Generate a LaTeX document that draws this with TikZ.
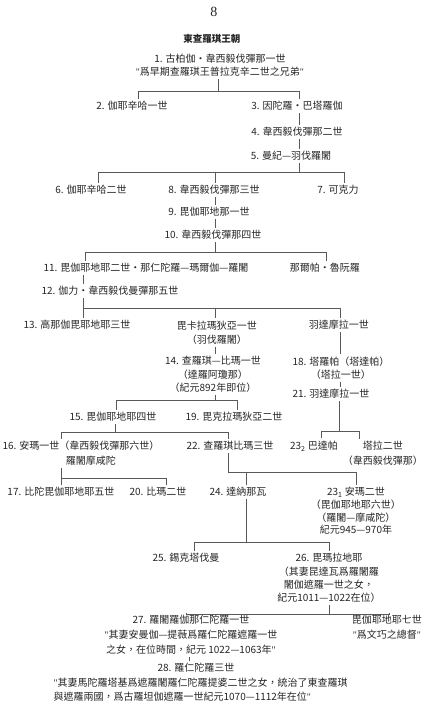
\documentclass[tikz,border=0pt]{standalone}
\usepackage{fontspec}
\setmainfont{Noto Sans CJK TC}
\newfontfamily\latinfont{Liberation Serif}
\newcommand\dq{{\latinfont"}}

\begin{document}
\begin{tikzpicture}[
  x=1pt, y=-1pt,
  font=\fontsize{10}{13.5}\selectfont,
  every node/.style={align=center, text=black!85},
  gen/.style={inner sep=2.5pt},
  wide/.style={font=\fontsize{10}{15}\selectfont},
  link/.style={draw=black!65, line width=0.5pt}
]
\fill[white] (0,0) rectangle (435,705);

% heading
\node[gen] (pg) at (213,12) {\latinfont\fontsize{14}{14}\selectfont 8};
\node[gen, font=\bfseries\fontsize{9.5}{12}\selectfont] (ttl) at (211,39) {東查羅琪王朝};

% generations
\node[gen, font=\fontsize{10}{13}\selectfont] (n1) at (219,65.5) {1. 古柏伽・韋西毅伐彈那一世\\\dq 爲早期查羅琪王普拉克辛二世之兄弟\dq};
\node[gen] (n2) at (131,106) {2. 伽耶辛哈一世};
\node[gen] (n3) at (296,106) {3. 因陀羅・巴塔羅伽};
\node[gen] (n4) at (296,132) {4. 韋西毅伐彈那二世};
\node[gen] (n5) at (290,156) {5. 曼紀—羽伐羅闍};
\node[gen] (n6) at (90,190) {6. 伽耶辛哈二世};
\node[gen] (n8) at (213,190) {8. 韋西毅伐彈那三世};
\node[gen] (n7) at (337,190) {7. 可克力};
\node[gen] (n9) at (208,212) {9. 毘伽耶地那一世};
\node[gen] (n10) at (212,235) {10. 韋西毅伐彈那四世};
\node[gen] (n11) at (145,268) {11. 毘伽耶地耶二世・那仁陀羅—瑪爾伽—羅闍};
\node[gen] (nr) at (324,268) {那爾帕・魯阮羅};
\node[gen] (n12) at (109,291) {12. 伽力・韋西毅伐曼彈那五世};
\node[gen] (n13) at (76,325) {13. 高那伽毘耶地耶三世};
\node[gen, font=\fontsize{10}{14.5}\selectfont] (vk) at (216,332.5) {毘卡拉瑪狄亞一世\\（羽伐羅闍）};
\node[gen] (yd) at (338,325) {羽達摩拉一世};
\node[gen] (n14) at (212,374.5) {14. 查羅琪—比瑪一世\\（達羅阿瓊那）\\（紀元892年即位）};
\node[gen] (n18) at (340,368) {18. 塔羅帕（塔達帕）\\（塔拉一世）};
\node[gen] (n21) at (330,394) {21. 羽達摩拉一世};
\node[gen] (n15) at (112,417) {15. 毘伽耶地耶四世};
\node[gen] (n19) at (233,417) {19. 毘克拉瑪狄亞二世};
\node[gen, wide] (n16) at (80,453.5) {16. 安瑪一世（韋西毅伐彈那六世）\\\hspace*{2em}羅闍摩咸陀};
\node[gen] (n22) at (229,446) {22. 查羅琪比瑪三世};
\node[gen] (n23b) at (313,446) {23\textsubscript{2} 巴達帕};
\node[gen, wide] (tl2) at (382,453.5) {塔拉二世\\（韋西毅伐彈那）};
\node[gen] (n17) at (60,492) {17. 比陀毘伽耶地耶五世};
\node[gen] (n20) at (157,492) {20. 比瑪二世};
\node[gen] (n24) at (237,492) {24. 達納那瓦};
\node[gen, font=\fontsize{10}{12.7}\selectfont] (n23a) at (355,511) {23\textsubscript{1} 安瑪二世\\（毘伽耶地耶六世）\\（羅闍—摩咸陀）\\紀元945—970年};
\node[gen] (n25) at (185,558) {25. 錫克塔伐曼};
\node[gen, font=\fontsize{10}{13.3}\selectfont] (n26) at (328,578) {26. 毘瑪拉地耶\\（其妻昆達瓦爲羅闍羅\\闍伽遮羅一世之女，\\紀元1011—1022在位）};
\node[gen, wide] (n27) at (190,635) {27. 羅闍羅伽那仁陀羅一世\\\dq 其妻安曼伽—提薇爲羅仁陀羅遮羅一世\\之女，在位時間，紀元 1022—1063年\dq};
\node[gen, wide] (vj7) at (386,627.5) {毘伽耶地耶七世\\\dq 爲文巧之總督\dq};
\node[gen] (n28) at (195,668) {28. 羅仁陀羅三世};
\node[gen, align=left, anchor=west, font=\fontsize{10}{14}\selectfont] (n28b) at (50,690) {\dq 其妻馬陀羅塔基爲遮羅闍羅仁陀羅提婆二世之女，統治了東查羅琪\\與遮羅兩國，爲古羅坦伽遮羅一世紀元1070—1112年在位\dq};

% junction points
\coordinate (a1) at (217,91);  \coordinate (a1l) at (137,91);  \coordinate (a1r) at (298,91);
\coordinate (a2) at (298,172); \coordinate (a2l) at (97,172);  \coordinate (a2m) at (214,172); \coordinate (a2r) at (343,172);
\coordinate (a3) at (214,252); \coordinate (a3l) at (84,252);  \coordinate (a3r) at (325,252);
\coordinate (a4l) at (82,308); \coordinate (a4m) at (214,308); \coordinate (a4r) at (339,308);
\coordinate (a5) at (214,400); \coordinate (a5l) at (115,400); \coordinate (a5r) at (236,400);
\coordinate (a6) at (114,432); \coordinate (a6l) at (60,432);  \coordinate (a6r) at (227,432);
\coordinate (a7) at (338,431); \coordinate (a7l) at (320,431); \coordinate (a7r) at (358,431);
\coordinate (a8l) at (60,478); \coordinate (a8r) at (165,478);
\coordinate (a9l) at (227,472); \coordinate (a9m) at (245,472); \coordinate (a9r) at (355,472);
\coordinate (a10) at (245,542); \coordinate (a10l) at (193,542); \coordinate (a10r) at (328,542);
\coordinate (a11) at (328,614); \coordinate (a11l) at (185,614); \coordinate (a11r) at (388,614);
\coordinate (a12) at (188,660);

% lines of descent
\draw[link] (n1.south -| a1) -- (a1);
\draw[link] (n2.north -| a1l) -- (a1l) -- (a1r) -- (n3.north -| a1r);
\draw[link] (n3.south -| a1r) -- (n4.north -| a1r);
\draw[link] (n4.south -| a1r) -- (n5.north -| a1r);
\draw[link] (n5.south -| a2) -- (a2);
\draw[link] (n6.north -| a2l) -- (a2l) -- (a2r) -- (n7.north -| a2r);
\draw[link] (a2m) -- (n8.north -| a2m);
\draw[link] (n8.south -| a2m) -- (n9.north -| a2m);
\draw[link] (n9.south -| a2m) -- (n10.north -| a2m);
\draw[link] (n10.south -| a3) -- (a3);
\draw[link] (n11.north -| a3l) -- (a3l) -- (a3r) -- (nr.north -| a3r);
\draw[link] (n11.south -| a4l) -- (n12.north -| a4l);
\draw[link] (n12.south -| a4l) -- (a4l) -- (a4r) -- (yd.north -| a4r);
\draw[link] (a4l) -- (n13.north -| a4l);
\draw[link] (a4m) -- (vk.north -| a4m);
\draw[link] (vk.south -| a4m) -- (n14.north -| a4m);
\draw[link] (yd.south -| a4r) -- (n18.north -| a4r);
\draw[link] (n18.south -| a4r) -- (n21.north -| a4r);
\draw[link] (n14.south -| a5) -- (a5);
\draw[link] (n15.north -| a5l) -- (a5l) -- (a5r) -- (n19.north -| a5r);
\draw[link] (n15.south -| a6) -- (a6);
\draw[link] (n16.north -| a6l) -- (a6l) -- (a6r) -- (n22.north -| a6r);
\draw[link] (n21.south -| a7) -- (a7);
\draw[link] (n23b.north -| a7l) -- (a7l) -- (a7r) -- (tl2.north -| a7r);
\draw[link] (n16.south -| a8l) -- (a8l) -- (a8r) -- (n20.north -| a8r);
\draw[link] (a8l) -- (n17.north -| a8l);
\draw[link] (n22.south -| a9l) -- (a9l) -- (a9r) -- (n23a.north -| a9r);
\draw[link] (a9m) -- (n24.north -| a9m);
\draw[link] (n24.south -| a10) -- (a10);
\draw[link] (n25.north -| a10l) -- (a10l) -- (a10r) -- (n26.north -| a10r);
\draw[link] (n26.south -| a11) -- (a11);
\draw[link] (n27.north -| a11l) -- (a11l) -- (a11r) -- (vj7.north -| a11r);
\draw[link] (n27.south -| a12) -- (n28.north -| a12);
\end{tikzpicture}
\end{document}
